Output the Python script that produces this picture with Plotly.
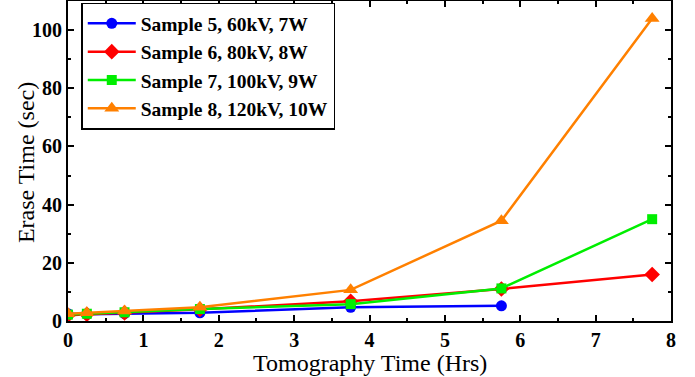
import plotly.graph_objects as go

x_all = [0, 0.25, 0.75, 1.75, 3.75, 5.75, 7.75]
s5 = [2.5, 2.3, 2.5, 2.8, 4.7, 5.2]
s6 = [2.0, 2.3, 2.8, 4.0, 6.8, 11.0, 16.0]
s7 = [2.2, 2.5, 3.0, 4.1, 5.8, 11.2, 35.0]
s8 = [2.5, 2.8, 3.4, 4.7, 10.7, 34.5, 104.0]

names = ["Sample 5, 60kV, 7W", "Sample 6, 80kV, 8W", "Sample 7, 100kV, 9W", "Sample 8, 120kV, 10W"]
colors = ["#0000ff", "#ff0000", "#00ee00", "#ff8000"]
symbols = ["circle", "diamond", "square", "triangle-up"]
msizes = [11, 12, 10, 13]
series = [s5, s6, s7, s8]
x_title = "Tomography Time (Hrs)"
y_title = "Erase Time (sec)"

fig = go.Figure()
for name, col, sym, ms, ys in zip(names, colors, symbols, msizes, series):
    fig.add_trace(go.Scatter(
        x=x_all[:len(ys)], y=ys, name=name, mode="lines+markers",
        line=dict(color=col, width=2.5),
        marker=dict(symbol=sym, size=ms, color=col),
    ))

font_family = "Liberation Serif, Times New Roman, serif"
axis_common = dict(
    showgrid=False, zeroline=False, showline=True, linecolor="black", linewidth=2,
    mirror="ticks", ticks="inside", ticklen=6, tickwidth=1.5, tickcolor="black",
    tickfont=dict(family=font_family, size=20, color="black", weight="bold"),
    automargin=False,
)
fig.update_layout(
    width=695, height=377,
    margin=dict(l=68, r=24, t=1, b=56),
    plot_bgcolor="white", paper_bgcolor="white",
    font=dict(family=font_family, color="black"),
    xaxis=dict(range=[0, 8], dtick=1, minor=dict(dtick=0.5, ticks="inside", ticklen=3, tickwidth=1.5, tickcolor="black"),
               **axis_common),
    yaxis=dict(range=[0, 110], dtick=20, minor=dict(dtick=10, ticks="inside", ticklen=3, tickwidth=1.5, tickcolor="black"),
               **axis_common),
    legend=dict(x=0.022, y=0.995, xanchor="left", yanchor="top",
                bordercolor="black", borderwidth=1.5, bgcolor="white",
                font=dict(family=font_family, size=19.5, color="black", weight="bold"),
                tracegroupgap=0, itemwidth=48),
    showlegend=True,
    annotations=[
        dict(text=x_title, xref="paper", yref="paper", x=0.5, y=-0.132,
             xanchor="center", yanchor="middle", showarrow=False,
             font=dict(family=font_family, size=24, color="black")),
        dict(text=y_title, xref="paper", yref="paper", x=-0.0705, y=0.495,
             xanchor="center", yanchor="middle", showarrow=False, textangle=-90,
             font=dict(family=font_family, size=24, color="black")),
    ],
)
fig.write_html("out.html", config={"displayModeBar": False},
               post_script="document.body.style.margin='0';")
